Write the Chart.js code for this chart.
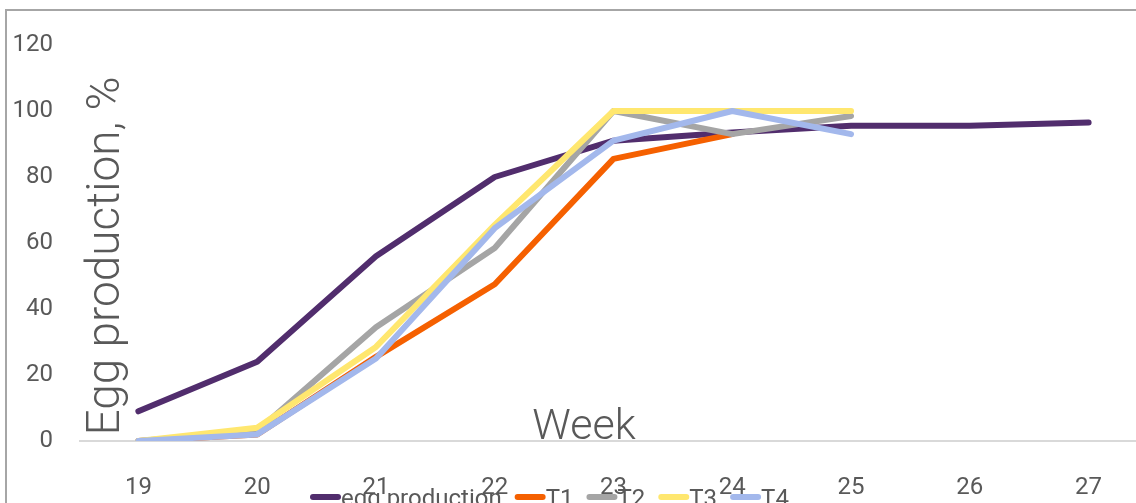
<!DOCTYPE html>
<html lang="en">
<head>
    <meta charset="UTF-8">
    <script src="https://cdn.jsdelivr.net/npm/chart.js"></script>
    <title>Egg production</title>
    <style>
        body {
            margin: 0;
            padding: 0;
            width: 1136px;
            height: 503px;
            overflow: hidden;
            background: #fff;
            position: relative;
        }

        .frame {
            position: absolute;
            left: 5px;
            top: 9px;
            width: 1200px;
            height: 600px;
            border: 2px solid #a6a6a6;
        }

        #grafico {
            position: absolute;
            left: 0;
            top: 0;
        }
    </style>
</head>
<body>
    <div class="frame"></div>
    <canvas id="grafico" width="1160" height="503"></canvas>

    <script>
        // dados
        const semanas = ['19', '20', '21', '22', '23', '24', '25', '26', '27'];
        const eggProduction = [9, 24, 56, 80, 91, 93.5, 95.5, 95.5, 96.5];
        const t1 = [0, 2, 25.5, 47.5, 85.5, 93, null, null, null];
        const t2 = [0, 3, 34.5, 58.5, 100, 93, 98.5, null, null];
        const t3 = [0, 4, 28.5, 65.5, 100, 100, 100, null, null];
        const t4 = [0, 2, 25, 64.5, 91, 100, 93, null, null];

        const nomes = ['egg production', 'T1', 'T2', 'T3', 'T4'];
        const cores = ['#512d6d', '#f56000', '#a5a5a5', '#ffe76f', '#a3b8ec'];

        const fonte = "'Roboto', 'DejaVu Sans', sans-serif";
        const corTexto = '#595959';

        const series = [eggProduction, t1, t2, t3, t4];

        // títulos e legenda desenhados à mão (no Excel eles ficam por cima do gráfico)
        const textos = {
            id: 'textos',
            afterDraw(chart) {
                const ctx = chart.ctx;
                const area = chart.chartArea;
                ctx.save();
                ctx.fillStyle = corTexto;

                // título do eixo Y
                ctx.font = '300 46px ' + fonte;
                ctx.translate(119, (area.top + area.bottom) / 2 + 13);
                ctx.rotate(-Math.PI / 2);
                ctx.textAlign = 'center';
                ctx.textBaseline = 'alphabetic';
                ctx.fillText('Egg production, %', 0, 0);
                ctx.setTransform(1, 0, 0, 1, 0, 0);

                // título do eixo X
                ctx.font = '300 43px ' + fonte;
                ctx.textAlign = 'center';
                ctx.fillText('Week', 584, area.bottom - 2);

                // legenda
                ctx.font = '24px ' + fonte;
                ctx.textAlign = 'left';
                const amostra = 25;
                let x = 313;
                const y = 497;
                chart.data.datasets.forEach((ds) => {
                    ctx.strokeStyle = ds.borderColor;
                    ctx.lineWidth = 6;
                    ctx.lineCap = 'round';
                    ctx.beginPath();
                    ctx.moveTo(x, y);
                    ctx.lineTo(x + amostra, y);
                    ctx.stroke();
                    x += amostra + 3;
                    ctx.fillText(ds.label, x, y + 9);
                    x += ctx.measureText(ds.label).width + 16;
                });
                ctx.restore();
            }
        };

        const ctx = document.getElementById('grafico').getContext('2d');
        new Chart(ctx, {
            type: 'line',
            data: {
                labels: semanas,
                datasets: series.map((dados, i) => ({
                    label: nomes[i],
                    data: dados,
                    borderColor: cores[i],
                    backgroundColor: cores[i],
                    borderWidth: 6,
                    borderCapStyle: 'round',
                    borderJoinStyle: 'round',
                    pointRadius: 0,
                    tension: 0,
                    spanGaps: false,
                    order: series.length - i
                }))
            },
            options: {
                responsive: false,
                animation: false,
                devicePixelRatio: 1,
                layout: {
                    padding: { top: 45, right: 12, bottom: 0, left: 0 }
                },
                plugins: {
                    legend: { display: false },
                    tooltip: { enabled: false }
                },
                scales: {
                    x: {
                        offset: true,
                        border: { display: false },
                        grid: { display: false },
                        ticks: {
                            color: corTexto,
                            font: { family: fonte, size: 24 },
                            padding: 25,
                            maxRotation: 0
                        },
                        afterFit(scale) { scale.height = 62; }
                    },
                    y: {
                        min: 0,
                        max: 120,
                        border: { display: false },
                        grid: {
                            drawTicks: false,
                            lineWidth: 2,
                            color: (c) => c.tick && c.tick.value === 0 ? '#d9d9d9' : 'rgba(0,0,0,0)'
                        },
                        ticks: {
                            stepSize: 20,
                            color: corTexto,
                            font: { family: fonte, size: 24 },
                            padding: 26
                        },
                        afterFit(scale) { scale.width = 79; }
                    }
                }
            },
            plugins: [textos]
        });
    </script>
</body>
</html>
